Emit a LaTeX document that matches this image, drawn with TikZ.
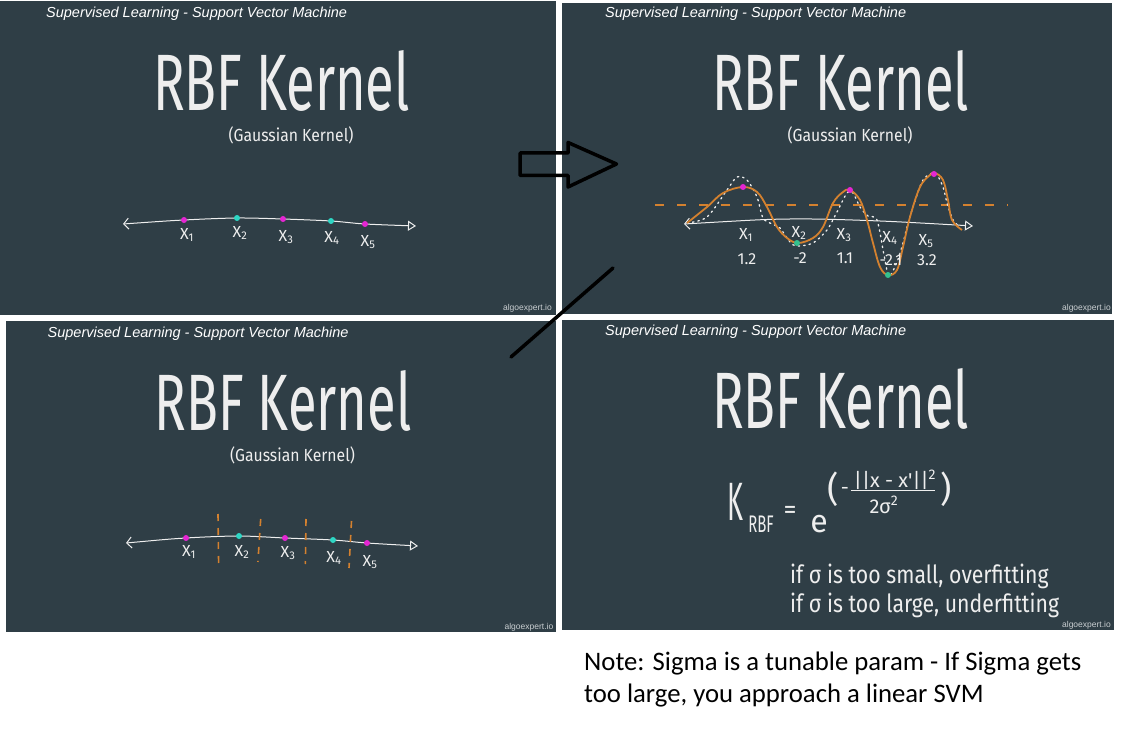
\documentclass[tikz,border=0pt]{standalone}
\usepackage{fontspec}
\usepackage{graphicx}
\usepackage{xcolor}
\usepackage{tikz}
\usetikzlibrary{arrows.meta,calc}

\IfFontExistsTF{FiraSans-ExtraLight.otf}
  {\newfontfamily\hand{FiraSans-ExtraLight.otf}}
  {\newfontfamily\hand{Fira Sans}}
\newfontfamily\slidefont{Liberation Sans}
\newfontfamily\notefont{Carlito}

\definecolor{slidebg}{HTML}{2F3E46}
\definecolor{chalk}{HTML}{EEEEEE}
\definecolor{dotpink}{HTML}{E426D2}
\definecolor{dotcyan}{HTML}{2ED6C4}
\definecolor{dotgreen}{HTML}{34C08E}
\definecolor{kernorange}{HTML}{D4812F}
\definecolor{logogrey}{HTML}{C9CED1}

\newcommand{\fs}[1]{\fontsize{#1}{#1}\selectfont}

\begin{document}
\begin{tikzpicture}[x=1pt,y=-1pt,
    hw/.style={text=chalk,inner sep=0pt},
    xlab/.style={hw,font=\hand\fs{16}},
    numline/.style={chalk,line width=1pt,{Straight Barb[length=5pt,width=11pt]}-{Triangle[open,length=8pt,width=10pt]}},
    pt/.style={circle,inner sep=0pt,minimum size=6pt},
    cutline/.style={kernorange,line width=1.6pt,dash pattern=on 7pt off 7pt},
    arrowline/.style={black,line width=3.5pt,line join=round,line cap=round}]
  \useasboundingbox (0,0) rectangle (1122,738);
  \fill[white] (0,0) rectangle (1122,738);

  % the four slides
  \foreach \px/\py/\qx/\qy/\ox/\oy [count=\i] in {0/1/556/315/5/2, 562/3/1112/314/564/2, 6/321/556/632/6.5/321, 562/320/1114/630/564/319}{
    \fill[slidebg] (\px,\py) rectangle (\qx,\qy);
    \begin{scope}
      \clip (\px,\py) rectangle (\qx,\qy);
      \node[anchor=base west,text=white,inner sep=0pt,font=\slidefont\itshape\fs{14.5}] (title\i) at (\ox+41,\oy+16) {Supervised Learning - Support Vector Machine};
      \node[hw,anchor=base,text depth=0pt,font=\hand\fs{80}] (head\i) at (\ox+276.5,\oy+109) {\scalebox{0.655}[1]{RBF Kernel}};
      \node[anchor=base east,text=logogrey,inner sep=0pt,font=\slidefont\fs{8.5}] (logo\i) at (\ox+547,\oy+308) {algoexpert.io};
    \end{scope}
  }
  \foreach \ox/\oy [count=\i] in {5/2, 564/2, 6.5/321}
    \node[hw,anchor=base,text height=10pt,font=\hand\fs{17.5}] (sub\i) at (\ox+286,\oy+140) {\scalebox{0.9}[1]{(Gaussian Kernel)}};

  % slide 1: points on the line
  \coordinate (a0) at (123,224);
  \coordinate (a6) at (416,226);
  \draw[numline] plot[smooth] coordinates {(a0) (184,220) (237,218) (283,219) (331,221) (365,224) (a6)};
  \foreach \n/\x/\y/\c in {1/184/220/dotpink, 2/237/218/dotcyan, 3/283/219/dotpink, 4/331/221/dotcyan, 5/365/224/dotpink}
    \node[pt,fill=\c] (a\n) at (\x,\y) {};
  \foreach \n/\x/\y in {1/187/235, 2/240/233, 3/286/237, 4/332/238, 5/368/242}
    \node[xlab] (alab\n) at (\x,\y) {X\textsubscript{\n}};

  % slide 3: same points, cut by dashed lines
  \coordinate (c0) at (126,543);
  \coordinate (c6) at (418,546);
  \draw[numline] plot[smooth] coordinates {(c0) (186,538) (239,536) (285,538) (333,540) (367,543) (c6)};
  \foreach \xa/\ya/\xb/\yb in {218/514/218.6/563, 260.7/519/257.9/562, 306/519/305.4/564, 351.5/521/349/568}
    \draw[cutline] (\xa,\ya) -- (\xb,\yb);
  \foreach \n/\x/\y/\c in {1/186/538/dotpink, 2/239/536/dotcyan, 3/285/538/dotpink, 4/333/540/dotcyan, 5/367/543/dotpink}
    \node[pt,fill=\c] (c\n) at (\x,\y) {};
  \foreach \n/\x/\y in {1/189/552, 2/242/552, 3/288/553, 4/334/558, 5/370/562}
    \node[xlab] (clab\n) at (\x,\y) {X\textsubscript{\n}};

  % slide 2: gaussian bumps over the points
  \coordinate (b0) at (684,224);
  \coordinate (b6) at (973,226);
  \draw[numline] plot[smooth] coordinates {(b0) (790,219) (880,221) (b6)};
  \draw[kernorange,line width=1.4pt,dash pattern=on 9pt off 13pt] (655,205) -- (1008,205);
  \draw[chalk,line width=1.3pt,dash pattern=on 1.5pt off 4pt,line cap=round] plot[smooth] coordinates {(687,223) (707,217) (727,190) (737,177) (747,180) (757,197) (763,218) (772,224) (780,228) (790,242) (797,246) (813,243) (827,230) (837,212) (847,193) (853,193) (860,207) (868,216) (877,220) (884,255) (889,276) (897,262) (903,243) (907,227) (913,207) (923,180) (935,173) (943,187) (947,203) (953,220) (960,227)};
  \draw[kernorange,line width=1.8pt] plot[smooth,tension=0.6] coordinates {(687,223) (707,207) (723,193) (743,187) (757,192) (767,207) (777,227) (787,238) (798,243) (813,238) (823,227) (833,203) (843,192) (850,190) (860,200) (867,220) (873,243) (880,267) (888,275) (897,270) (903,247) (910,217) (920,187) (930,175) (935,173) (943,180) (948,200) (952,220) (962,230)};
  \foreach \n/\x/\y/\c in {1/743/187/dotpink, 2/797/243/dotgreen, 3/850/190/dotpink, 4/888/275/dotgreen, 5/934/174/dotpink}
    \node[pt,fill=\c] (b\n) at (\x,\y) {};
  \foreach \n/\x/\y/\v/\vy in {1/746/235/1.2/259, 2/799/233/-2/258, 3/844/235/1.1/258, 4/890/238/-2.1/260, 5/926/241/3.2/260}{
    \node[xlab] (blab\n) at (\x,\y) {X\textsubscript{\n}};
    \node[xlab] (bval\n) at (\x+1,\vy) {\v};
  }

  % slide 4: the formula
  \node[hw,font=\hand\fs{54}] (kk) at (735,502) {\scalebox{0.5}[1]{K}};
  \node[hw,font=\hand\fs{24}] (kksub) at (761,524) {\scalebox{0.62}[1]{RBF}};
  \node[hw,font=\hand\fs{26}] (eq) at (790,512) {=};
  \node[hw,font=\hand\fs{32}] (ee) at (819,524) {e};
  \node[hw,font=\hand\fs{35}] (lpar) at (833,489) {(};
  \node[hw,font=\hand\fs{20}] (minus) at (845,491) {-};
  \node[hw,font=\hand\fs{20}] (num) at (895,480) {||x - x'||\textsuperscript{2}};
  \coordinate (fl) at (851,490);
  \coordinate (fr) at (935,490);
  \draw[chalk,line width=1pt] (fl) -- (fr);
  \node[hw,font=\hand\fs{20}] (den) at (884,505) {2σ\textsuperscript{2}};
  \node[hw,font=\hand\fs{35}] (rpar) at (946,489) {)};
  \node[hw,anchor=base west,font=\hand\fs{25}] (small) at (790,583) {\scalebox{0.85}[1]{if σ is too small, overfitting}};
  \node[hw,anchor=base west,font=\hand\fs{25}] (large) at (790,612) {\scalebox{0.85}[1]{if σ is too large, underfitting}};

  % arrow and stroke between the slides
  \draw[arrowline] (520,153) -- (568,153) -- (568,142.5) -- (616.5,164) -- (568,187) -- (568,175.5) -- (520,175.5) -- cycle;
  \coordinate (s0) at (511,357);
  \coordinate (s1) at (613,268);
  \draw[arrowline] (s0) -- (s1);

  % note below
  \node[anchor=base west,inner sep=0pt,font=\notefont\fs{26.7}] (note1) at (584,670) {Note: Sigma is a tunable param - If Sigma gets};
  \node[anchor=base west,inner sep=0pt,font=\notefont\fs{26.7}] (note2) at (584,702) {too large, you approach a linear SVM};
\end{tikzpicture}
\end{document}
